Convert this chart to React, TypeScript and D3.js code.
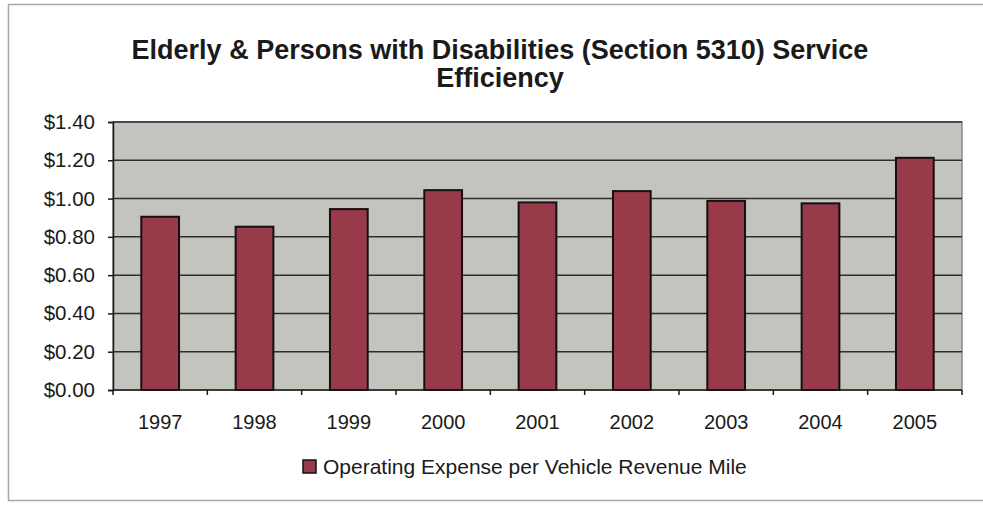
import { useEffect, useRef } from 'react';
import * as d3 from 'd3';

const years = ['1997', '1998', '1999', '2000', '2001', '2002', '2003', '2004', '2005'];
const costPerMile = [0.905, 0.853, 0.945, 1.044, 0.98, 1.039, 0.988, 0.975, 1.213];
const yTicks = [0, 0.2, 0.4, 0.6, 0.8, 1.0, 1.2, 1.4];
const titleLines = ['Elderly & Persons with Disabilities (Section 5310) Service', 'Efficiency'];
const seriesName = 'Operating Expense per Vehicle Revenue Mile';

export default function App() {
  const svgRef = useRef<SVGSVGElement>(null);

  useEffect(() => {
    if (!svgRef.current) return;
    document.body.style.margin = '0';

    const W = 983;
    const H = 511;
    const plot = { left: 113, right: 962, top: 122, bottom: 390 };
    const font = 'Liberation Sans, Arial, sans-serif';

    const svg = d3.select(svgRef.current);
    svg.selectAll('*').remove();
    svg.attr('width', W).attr('height', H);

    svg.append('rect').attr('width', W).attr('height', H).attr('fill', '#ffffff');

    // outer chart frame
    svg.append('rect')
      .attr('x', 8.5).attr('y', 4.5)
      .attr('width', W + 10).attr('height', 496)
      .attr('fill', 'none')
      .attr('stroke', '#a8a8a8')
      .attr('stroke-width', 1.5);

    // title
    const title = svg.append('text')
      .attr('text-anchor', 'middle')
      .attr('font-family', font)
      .attr('font-weight', 'bold')
      .attr('font-size', '27px')
      .attr('fill', '#1a1a1a');
    titleLines.forEach((line, i) => {
      title.append('tspan').attr('x', 500).attr('y', 59 + i * 28).text(line);
    });

    const x = d3.scaleBand<string>()
      .domain(years)
      .range([plot.left, plot.right])
      .paddingInner(0.6)
      .paddingOuter(0.3);

    const xEdge = d3.scaleLinear()
      .domain([0, years.length])
      .range([plot.left, plot.right]);

    const y = d3.scaleLinear()
      .domain([0, 1.4])
      .range([plot.bottom, plot.top]);

    // plot background
    svg.append('rect')
      .attr('x', plot.left).attr('y', plot.top)
      .attr('width', plot.right - plot.left)
      .attr('height', plot.bottom - plot.top)
      .attr('fill', '#c4c4be')
      .attr('stroke', '#8a8a8a')
      .attr('stroke-width', 1.5);

    // gridlines
    svg.append('g')
      .selectAll('line')
      .data(yTicks.slice(1))
      .join('line')
      .attr('x1', plot.left).attr('x2', plot.right)
      .attr('y1', d => y(d)).attr('y2', d => y(d))
      .attr('stroke', '#2e2e2e')
      .attr('stroke-width', 1.5);

    // bars
    svg.append('g')
      .selectAll('rect')
      .data(years)
      .join('rect')
      .attr('x', d => x(d)!)
      .attr('y', (_, i) => y(costPerMile[i]))
      .attr('width', x.bandwidth())
      .attr('height', (_, i) => plot.bottom - y(costPerMile[i]))
      .attr('fill', '#983a4a')
      .attr('stroke', '#141010')
      .attr('stroke-width', 2);

    // y axis
    svg.append('g')
      .attr('transform', `translate(${plot.left},0)`)
      .call(d3.axisLeft(y).tickValues(yTicks).tickFormat(d3.format('$.2f') as any).tickSize(5).tickPadding(13))
      .call(g => g.select('.domain').attr('stroke', '#1a1a1a').attr('stroke-width', 1.5))
      .call(g => g.selectAll('.tick line').attr('stroke', '#1a1a1a').attr('stroke-width', 1.5))
      .call(g => g.selectAll('.tick text')
        .attr('fill', '#1a1a1a')
        .attr('font-family', font)
        .attr('font-size', '20.5px'));

    // x axis
    const xAxis = svg.append('g');
    xAxis.append('line')
      .attr('x1', plot.left).attr('x2', plot.right)
      .attr('y1', plot.bottom).attr('y2', plot.bottom)
      .attr('stroke', '#1a1a1a').attr('stroke-width', 1.5);
    xAxis.selectAll('line.tick')
      .data(d3.range(years.length + 1))
      .join('line')
      .attr('class', 'tick')
      .attr('x1', d => xEdge(d)).attr('x2', d => xEdge(d))
      .attr('y1', plot.bottom).attr('y2', plot.bottom + 5)
      .attr('stroke', '#1a1a1a').attr('stroke-width', 1.5);
    xAxis.selectAll('text')
      .data(years)
      .join('text')
      .attr('x', d => x(d)! + x.bandwidth() / 2)
      .attr('y', 429)
      .attr('text-anchor', 'middle')
      .attr('font-family', font)
      .attr('font-size', '20px')
      .attr('fill', '#1a1a1a')
      .text(d => d);

    // legend
    const legend = svg.append('g').attr('transform', 'translate(303,460)');
    legend.append('rect')
      .attr('x', 0).attr('y', 0)
      .attr('width', 13).attr('height', 13)
      .attr('fill', '#983a4a')
      .attr('stroke', '#141010')
      .attr('stroke-width', 1.5);
    legend.append('text')
      .attr('x', 20).attr('y', 14)
      .attr('font-family', font)
      .attr('font-size', '21px')
      .attr('fill', '#1a1a1a')
      .text(seriesName);
  }, []);

  return <svg ref={svgRef} style={{ display: 'block' }} />;
}
